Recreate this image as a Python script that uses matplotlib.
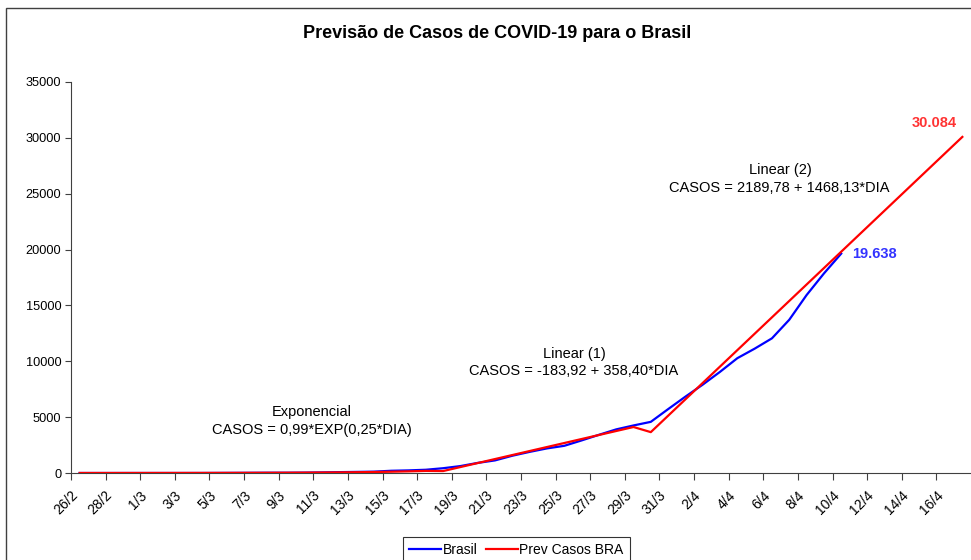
import matplotlib
matplotlib.use('Agg')
import matplotlib.pyplot as plt
import matplotlib.transforms as mtransforms
from matplotlib.patches import Rectangle

plt.rcParams['font.family'] = ['Liberation Sans', 'DejaVu Sans']

# categorias (dias) - 26/2 a 17/4 de 2020
dias = ['26/2', '27/2', '28/2', '29/2',
        '1/3', '2/3', '3/3', '4/3', '5/3', '6/3', '7/3', '8/3', '9/3', '10/3',
        '11/3', '12/3', '13/3', '14/3', '15/3', '16/3', '17/3', '18/3', '19/3', '20/3',
        '21/3', '22/3', '23/3', '24/3', '25/3', '26/3', '27/3', '28/3', '29/3', '30/3',
        '31/3', '1/4', '2/4', '3/4', '4/4', '5/4', '6/4', '7/4', '8/4', '9/4',
        '10/4', '11/4', '12/4', '13/4', '14/4', '15/4', '16/4', '17/4']

# casos confirmados (ate 10/4)
brasil = [1, 1, 1, 2, 2, 2, 2, 3, 8, 13, 19, 25, 25, 34, 52, 77, 98, 121, 200, 234,
          291, 428, 621, 904, 1128, 1546, 1891, 2201, 2433, 2915, 3417, 3904, 4256,
          4579, 5717, 6836, 7910, 9056, 10278, 11130, 12056, 13717, 15927, 17857, 19638]

# previsao (exponencial -> linear 1 -> linear 2)
prev_casos = [1.27, 1.63, 2.10, 2.69, 3.46, 4.44, 5.70, 7.32, 9.39, 12.06,
              15.49, 19.88, 25.53, 32.78, 42.09, 54.05, 69.40, 89.12, 114.43, 146.93,
              188.66,
              174.48, 532.88, 891.28, 1249.68, 1608.08, 1966.48, 2324.88, 2683.28,
              3041.68, 3400.08, 3758.48, 4116.88,
              3657.91, 5126.04, 6594.17, 8062.30, 9530.43, 10998.56, 12466.69, 13934.82,
              15402.95, 16871.08, 18339.21, 19807.34, 21275.47, 22743.60, 24211.73,
              25679.86, 27147.99, 28616.12, 30084.25]

W, H = 971, 560
fig = plt.figure(figsize=(W / 100, H / 100), dpi=100)

# moldura do grafico (cortada a direita e embaixo)
fig.patches.append(Rectangle((5.5 / W, -0.5), 2.0, 1.5 - 7.5 / H,
                             transform=fig.transFigure, fill=False,
                             edgecolor='#404040', linewidth=1.0))

ax = fig.add_axes([71 / W, 1 - 473 / H, 900 / W, 391 / H])

x_brasil = [i + 0.5 for i in range(len(brasil))]
x_prev = [i + 0.5 for i in range(len(prev_casos))]

ax.plot(x_brasil, brasil, color='#0000ff', linewidth=1.6, label='Brasil', zorder=3)
ax.plot(x_prev, prev_casos, color='#ff0000', linewidth=1.6, label='Prev Casos BRA', zorder=4)

ax.set_xlim(0, len(dias))
ax.set_ylim(0, 35000)
ax.set_yticks(range(0, 35001, 5000))
ax.set_yticklabels([str(v) for v in range(0, 35001, 5000)], fontsize=9.2)

# marcas entre categorias, rotulos no centro
ax.set_xticks(range(0, len(dias), 2))
ax.set_xticklabels([])
ax.set_xticks([i + 0.5 for i in range(0, len(dias) - 1, 2)], minor=True)
ax.set_xticklabels(dias[0:len(dias) - 1:2], minor=True, fontsize=10)
ax.tick_params(axis='x', which='minor', length=0, pad=11)
ax.tick_params(axis='x', which='major', length=5, color='#404040', direction='out')
ax.tick_params(axis='y', length=4, color='#404040', direction='out', pad=3)
shift = mtransforms.ScaledTranslation(-0.09, 0, fig.dpi_scale_trans)
for lbl in ax.get_xticklabels(minor=True):
    lbl.set_rotation(45)
    lbl.set_ha('right')
    lbl.set_va('top')
    lbl.set_rotation_mode('anchor')
    lbl.set_transform(lbl.get_transform() + shift)

ax.spines['top'].set_visible(False)
ax.spines['right'].set_visible(False)
ax.spines['left'].set_color('#404040')
ax.spines['bottom'].set_color('#404040')

# rotulos dos valores finais
ax.annotate(f'{brasil[-1]:,}'.replace(',', '.'), xy=(x_brasil[-1], brasil[-1]),
            xytext=(8, 0), textcoords='offset points', ha='left', va='center',
            color='#3333ff', fontsize=10.5, fontweight='bold')
ax.annotate(f'{round(prev_casos[-1]):,}'.replace(',', '.'), xy=(x_prev[-1], prev_casos[-1]),
            xytext=(-4, 10), textcoords='offset points', ha='right', va='center',
            color='#ff3333', fontsize=10.5, fontweight='bold')

# equacoes
fs = 10.5
fig.text(312 / W, 1 - 412 / H, 'Exponencial', ha='center', va='center', fontsize=fs)
fig.text(312 / W, 1 - 430 / H, 'CASOS = 0,99*EXP(0,25*DIA)', ha='center', va='center', fontsize=fs)
fig.text(574 / W, 1 - 354 / H, 'Linear (1)', ha='center', va='center', fontsize=fs)
fig.text(574 / W, 1 - 371 / H, 'CASOS = -183,92 + 358,40*DIA', ha='center', va='center', fontsize=fs)
fig.text(780 / W, 1 - 170 / H, 'Linear (2)', ha='center', va='center', fontsize=fs)
fig.text(779 / W, 1 - 188 / H, 'CASOS = 2189,78 + 1468,13*DIA', ha='center', va='center', fontsize=fs)

fig.text(497 / W, 1 - 33 / H, 'Previsão de Casos de COVID-19 para o Brasil',
         ha='center', va='center', fontsize=13, fontweight='bold')

leg = fig.legend(loc='upper left', bbox_to_anchor=(403 / W, 1 - 537 / H), ncol=2,
                 fontsize=10, frameon=True, fancybox=False, shadow=False,
                 handlelength=2.3, handletextpad=0.1, columnspacing=0.6,
                 borderaxespad=0, borderpad=0.45)
leg.get_frame().set_edgecolor('black')
leg.get_frame().set_linewidth(0.8)

fig.savefig('out.png', dpi=100)
